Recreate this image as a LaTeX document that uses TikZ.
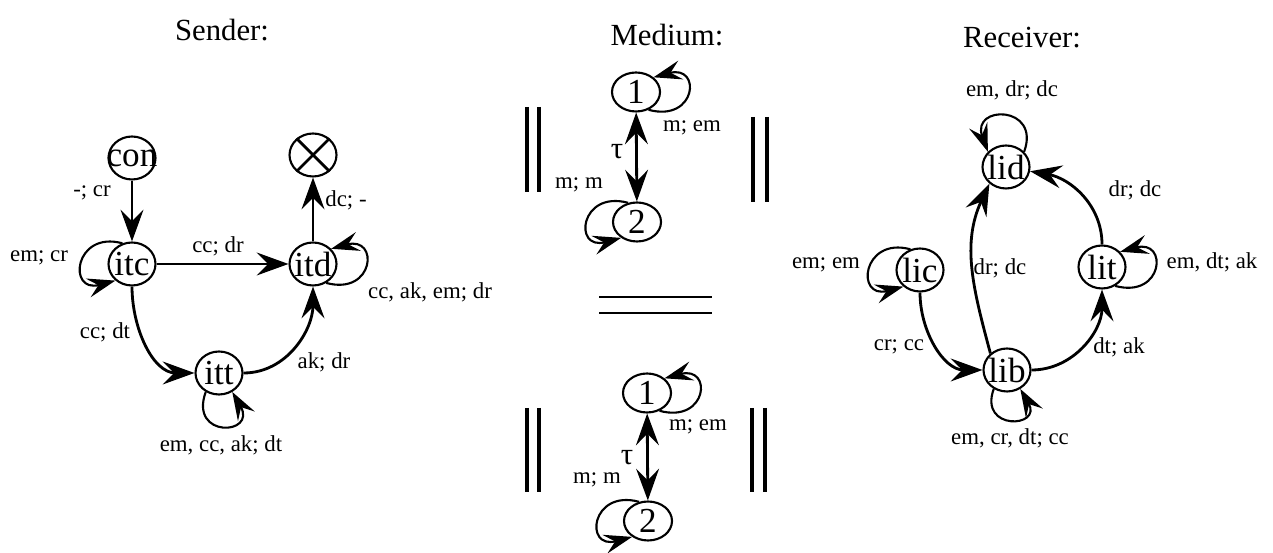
\documentclass[tikz,border=0pt]{standalone}
\usepackage{fontspec}
\setmainfont{Liberation Serif}
\usetikzlibrary{arrows.meta,shapes.geometric}

\tikzset{
  st/.style={ellipse, draw, line width=1.2pt, minimum width=0.94cm, minimum height=0.86cm,
    inner sep=-6pt, font=\fontsize{20}{22}\selectfont},
  med/.style={st, minimum width=0.96cm, minimum height=0.78cm},
  tr/.style={line width=1.6pt, -{Stealth[length=18pt,width=13pt,inset=6.5pt]}},
  both/.style={line width=1.6pt, {Stealth[length=18pt,width=13pt,inset=6.5pt]}-{Stealth[length=18pt,width=13pt,inset=6.5pt]}},
  self/.style={line width=1.2pt, -{Stealth[length=16pt,width=11pt,inset=6pt]}, distance=1cm},
  lab/.style={font=\fontsize{13}{15}\selectfont, inner sep=0pt},
  ttl/.style={font=\fontsize{17.5}{20}\selectfont},
  bar/.style={line width=1.8pt},
}

\begin{document}
\begin{tikzpicture}[x=0.02cm, y=0.02cm]
    \useasboundingbox (0,0) rectangle (1273,553);

    \node[ttl] (sender) at (222,523) {Sender:};
    \node[ttl] (medium) at (667,518) {Medium:};
    \node[ttl] (receiver) at (1022,515) {Receiver:};

    % sender
    \node[st] (con) at (132,395) {con};
    \node[st] (itc) at (132,289) {itc};
    \node[st] (itd) at (313,289) {itd};
    \node[st] (itt) at (219,180) {itt};
    \node[st] (end) at (313,398) {};
    \draw[line width=1.6pt] (end.45) -- (end.225) (end.135) -- (end.315);

    \draw[tr] (con) -- (itc);
    \draw[tr] (itc) -- (itd);
    \draw[tr] (itd) -- (end);
    \draw[tr] (itc) to[out=-90, in=180] (itt);
    \draw[tr] (itt) to[out=0, in=-90] (itd);
    \draw[self] (itc.115) to[out=165, in=195] (itc.225);
    \draw[self] (itd.-55) to[out=-15, in=15] (itd.40);
    \draw[self] (itt.235) to[out=250, in=300] (itt.-55);

    \node[lab] (l1) at (92,360) {-; cr};
    \node[lab] (l2) at (218,307) {cc; dr};
    \node[lab] (l3) at (346,353) {dc; -};
    \node[lab] (l4) at (105,221) {cc; dt};
    \node[lab] (l5) at (324,191) {ak; dr};
    \node[lab] (l6) at (39,295) {em; cr};
    \node[lab] (l7) at (430,261) {cc, ak, em; dr};
    \node[lab] (l8) at (221,108) {em, cc, ak; dt};

    % medium, two copies
    \node[med] (m1a) at (636,461) {1};
    \node[med] (m2a) at (637,331) {2};
    \draw[both] (m1a) -- (m2a);
    \draw[self] (m1a.-55) to[out=-15, in=15] (m1a.40);
    \draw[self] (m2a.115) to[out=165, in=195] (m2a.225);
    \node[ttl] (tau1) at (617,401) {τ};
    \node[lab] (m1) at (692,425) {m; em};
    \node[lab] (m2) at (579,368) {m; m};

    \node[med] (m1b) at (647,160) {1};
    \node[med] (m2b) at (648,32) {2};
    \draw[both] (m1b) -- (m2b);
    \draw[self] (m1b.-55) to[out=-15, in=15] (m1b.40);
    \draw[self] (m2b.115) to[out=165, in=195] (m2b.225);
    \node[ttl] (tau2) at (627,95) {τ};
    \node[lab] (m3) at (698,126) {m; em};
    \node[lab] (m4) at (597,73) {m; m};

    % parallel bars and equality
    \draw[bar] (527,446) -- (527,361) (539,446) -- (539,361);
    \draw[bar] (753,436) -- (753,351) (767,436) -- (767,351);
    \draw[bar] (527,145) -- (527,61) (539,145) -- (539,61);
    \draw[bar] (752,145) -- (752,61) (765,145) -- (765,61);
    \draw[line width=1.6pt] (599,256) -- (712,256) (599,240) -- (712,240);

    % receiver
    \node[st] (lid) at (1006,386) {lid};
    \node[st] (lic) at (920,283) {lic};
    \node[st] (lit) at (1102,286) {lit};
    \node[st] (lib) at (1007,183) {lib};

    \draw[tr] (lic) to[out=-90, in=180] (lib);
    \draw[tr] (lib) to[out=0, in=-90] (lit);
    \draw[tr] (lit) to[out=90, in=-10] (lid);
    \draw[tr] (lib.135) to[out=105, in=245] (lid.225);
    \draw[self] (lid.40) to[out=70, in=110] (lid.140);
    \draw[self] (lic.115) to[out=165, in=195] (lic.225);
    \draw[self] (lit.-55) to[out=-15, in=15] (lit.40);
    \draw[self, distance=0.9cm] (lib.235) to[out=250, in=300] (lib.-55);

    \node[lab] (r1) at (1012,463) {em, dr; dc};
    \node[lab] (r2) at (1135,363) {dr; dc};
    \node[lab] (r3) at (826,288) {em; em};
    \node[lab] (r4) at (1000,285) {dr; dc};
    \node[lab] (r5) at (1212,291) {em, dt; ak};
    \node[lab] (r6) at (899,206) {cr; cc};
    \node[lab] (r7) at (1119,206) {dt; ak};
    \node[lab] (r8) at (1010,115) {em, cr, dt; cc};
\end{tikzpicture}
\end{document}
